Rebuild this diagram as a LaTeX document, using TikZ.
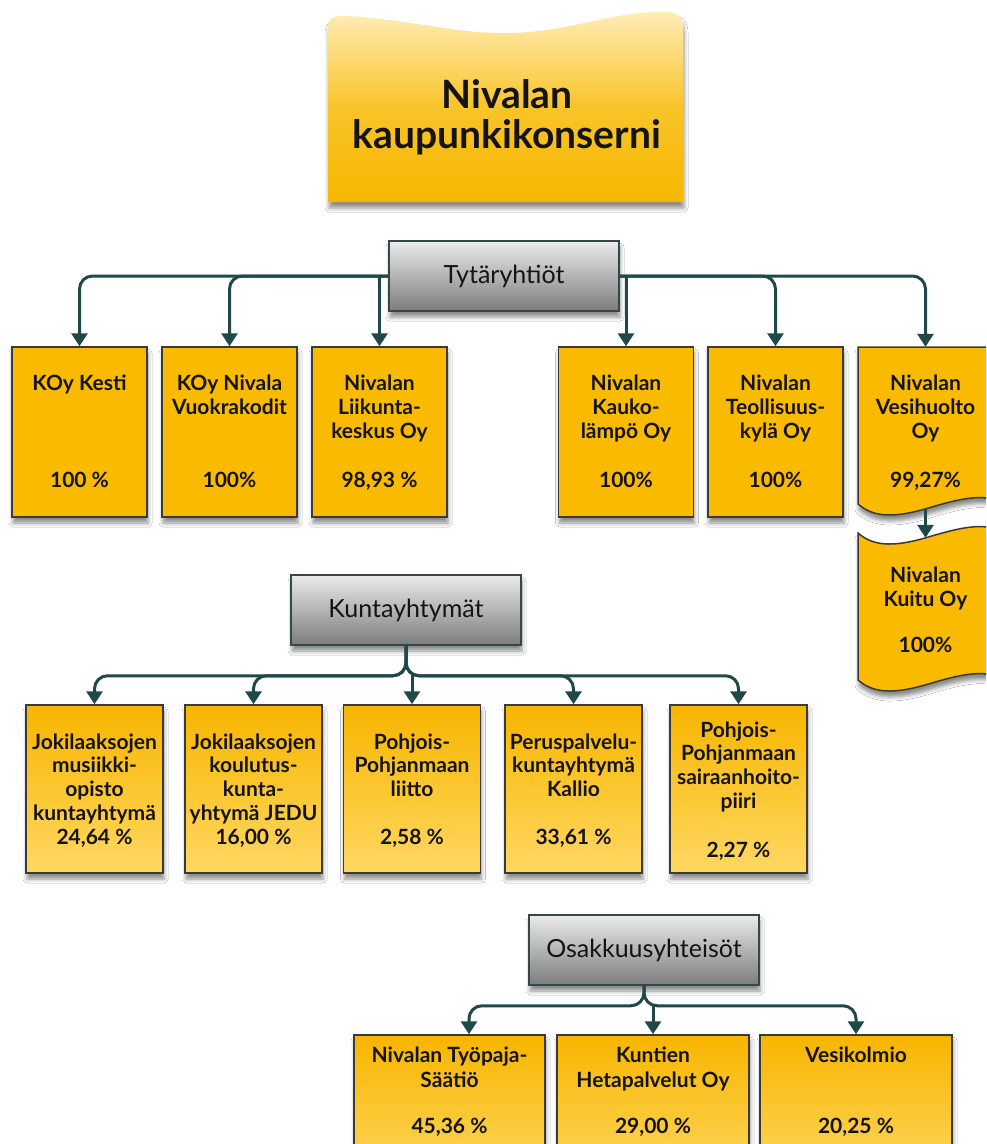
\documentclass[tikz,border=0pt]{standalone}
\usepackage{fontspec}
\setmainfont{Lato}
\usetikzlibrary{arrows.meta,calc,shadows.blur}
\definecolor{conncol}{HTML}{214849}
\definecolor{boxline}{HTML}{3A3A3A}
\definecolor{hdrline}{HTML}{35474B}
\definecolor{yel}{HTML}{FABA00}
\definecolor{yeltop}{HTML}{F7B500}
\definecolor{yelbot}{HTML}{FFD862}
\definecolor{graytop}{HTML}{EBEBEB}
\definecolor{graybot}{HTML}{7C7C7C}
\definecolor{ttop}{HTML}{FFEDB8}
\definecolor{tmid}{HTML}{F9C42A}
\definecolor{tbot}{HTML}{F6B700}
\definecolor{txt}{HTML}{141414}
\tikzset{
  shad/.style={blur shadow={shadow xshift=1pt, shadow yshift=-6pt, shadow blur radius=4pt, shadow opacity=45}},
  ybox/.style={draw=boxline, line width=1.5pt, fill=yel, minimum width=135pt, minimum height=170pt, inner sep=0, shad},
  gbox/.style={draw=boxline, line width=1.5pt, top color=yeltop, bottom color=yelbot, minimum width=137pt, minimum height=168pt, inner sep=0, shad},
  hdr/.style={draw=hdrline, line width=1.5pt, top color=graytop, bottom color=graybot, minimum width=230pt, minimum height=70pt, inner sep=0, shad, font=\fontsize{25}{28}\selectfont, text=txt},
  bt/.style={font=\bfseries\fontsize{21}{23.8}\selectfont, align=center, inner sep=0, anchor=base, text=txt},
  st/.style={bt, font=\bfseries\fontsize{21}{25}\selectfont},
  conn/.style={draw=conncol, line width=3pt, -{Triangle[width=16pt,length=13pt]}, rounded corners=13pt},
}
\begin{document}
\begin{tikzpicture}[x=1pt,y=-1pt]
\useasboundingbox (0,0) rectangle (986,1144);
\fill[white] (0,0) rectangle (986,1144);
\clip (0,0) rectangle (986,1144);

% title shape
\path[shad, top color=ttop, bottom color=tbot, middle color=tmid]
  (328,202) -- (328,28) .. controls (328,18) and (334,15) .. (348,16)
  .. controls (420,21) and (450,33) .. (505,33)
  .. controls (570,33) and (610,11) .. (664,12)
  .. controls (678,12) and (683,17) .. (683,27) -- (683,202) -- cycle;
\node[font=\bfseries\fontsize{39}{40}\selectfont, align=center, anchor=base, inner sep=0, text=txt] (title) at (507,148) {Nivalan\\kaupunkikonserni};

% headers
\node[hdr] (tyt) at (504,276) {Tytäryhtiöt};
\node[hdr] (kun) at (406,610) {Kuntayhtymät};
\node[hdr] (osa) at (644,950) {Osakkuusyhteisöt};

% row 1
\node[ybox] (k1) at (79.5,432) {};
\node[ybox] (k2) at (229.5,432) {};
\node[ybox] (k3) at (379.5,432) {};
\node[ybox] (k4) at (626,432) {};
\node[ybox] (k5) at (775.5,432) {};
\path[draw=boxline, line width=1.5pt, fill=yel, shad]
  (858,347) -- (993,347) -- (993,499) .. controls (975,495) and (955,500) .. (925,509)
  .. controls (890,519) and (872,516) .. (858,504) -- cycle;
\node[inner sep=0, minimum width=135pt, minimum height=162pt] (k6) at (925.5,428) {};
\path[draw=boxline, line width=1.5pt, fill=yel, shad]
  (858,533) .. controls (872,545) and (890,548) .. (925,538)
  .. controls (955,529) and (975,524) .. (993,528) -- (993,675)
  .. controls (975,671) and (955,676) .. (925,685)
  .. controls (890,695) and (872,692) .. (858,680) -- cycle;
\node[inner sep=0, minimum width=135pt, minimum height=147pt] (ku) at (925.5,611.5) {};

\node[bt] (k1t) at (79.5,390) {KOy Kesti};
\node[bt] (k1p) at (79.5,487) {100 \%};
\node[bt] (k2t) at (229.5,414) {KOy Nivala\\Vuokrakodit};
\node[bt] (k2p) at (229.5,487) {100\%};
\node[bt] (k3t) at (379.5,438) {Nivalan\\Liikunta-\\keskus Oy};
\node[bt] (k3p) at (379.5,487) {98,93 \%};
\node[bt] (k4t) at (626,438) {Nivalan\\Kauko-\\lämpö Oy};
\node[bt] (k4p) at (626,487) {100\%};
\node[bt] (k5t) at (775.5,438) {Nivalan\\Teollisuus-\\kylä Oy};
\node[bt] (k5p) at (775.5,487) {100\%};
\node[bt] (k6t) at (925.5,438) {Nivalan\\Vesihuolto\\Oy};
\node[bt] (k6p) at (925.5,487) {99,27\%};
\node[bt] (kut) at (925.5,606) {Nivalan\\Kuitu Oy};
\node[bt] (kup) at (925.5,652) {100\%};

% row 2
\node[gbox] (b1) at (94.5,789) {};
\node[gbox] (b2) at (253.5,789) {};
\node[gbox] (b3) at (412,789) {};
\node[gbox] (b4) at (573.5,789) {};
\node[gbox] (b5) at (738.5,789) {};
\node[bt] (b1t) at (94.5,820.4) {Jokilaaksojen\\musiikki-\\opisto\\kuntayhtymä};
\node[bt] (b1p) at (94.5,844) {24,64 \%};
\node[bt] (b2t) at (253.5,820.4) {Jokilaaksojen\\koulutus-\\kunta-\\yhtymä JEDU};
\node[bt] (b2p) at (253.5,844) {16,00 \%};
\node[bt] (b3t) at (412,796.6) {Pohjois-\\Pohjanmaan\\liitto};
\node[bt] (b3p) at (412,844) {2,58 \%};
\node[bt] (b4t) at (573.5,796.6) {Peruspalvelu-\\kuntayhtymä\\Kallio};
\node[bt] (b4p) at (573.5,844) {33,61 \%};
\node[bt] (b5t) at (738.5,808.4) {Pohjois-\\Pohjanmaan\\sairaanhoito-\\piiri};
\node[bt] (b5p) at (738.5,857) {2,27 \%};

% row 3
\node[gbox, minimum width=191pt, minimum height=150pt] (c1) at (449.5,1110) {};
\node[gbox, minimum width=192pt, minimum height=150pt] (c2) at (653,1110) {};
\node[gbox, minimum width=192pt, minimum height=150pt] (c3) at (856,1110) {};
\node[st] (c1t) at (449.5,1087) {Nivalan Työpaja-\\Säätiö};
\node[st] (c1p) at (449.5,1133) {45,36 \%};
\node[st] (c2t) at (653,1087) {Kuntien\\Hetapalvelut Oy};
\node[st] (c2p) at (653,1133) {29,00 \%};
\node[st] (c3t) at (856,1062) {Vesikolmio};
\node[st] (c3p) at (856,1133) {20,25 \%};

% connectors row 1
\draw[conn] (tyt.west) -| (k1.north);
\draw[conn] (tyt.west) -| (k2.north);
\draw[conn] (tyt.west -| k3.north) -- (k3.north);
\draw[conn] (tyt.east -| k4.north) -- (k4.north);
\draw[conn] (tyt.east) -| (k5.north);
\draw[conn] (tyt.east) -| (k6.north);
\draw[conn] (k6.south) -- (ku.north);

% connectors row 2
\draw[conn] (kun.south) -- ++(0,30) -| (b1.north);
\draw[conn] (kun.south) -- ++(0,30) -| (b2.north);
\draw[conn] ($(b3.north)+(0,-30)$) -- (b3.north);
\draw[conn] (kun.south) -- ++(0,30) -| (b4.north);
\draw[conn] (kun.south) -- ++(0,30) -| (b5.north);

% connectors row 3
\draw[conn] (osa.south) -- ++(0,20) -| ($(c1.north)+(19.5,0)$);
\draw[conn] ($(c2.north)+(0,-30)$) -- (c2.north);
\draw[conn] (osa.south) -- ++(0,20) -| (c3.north);
\end{tikzpicture}
\end{document}
